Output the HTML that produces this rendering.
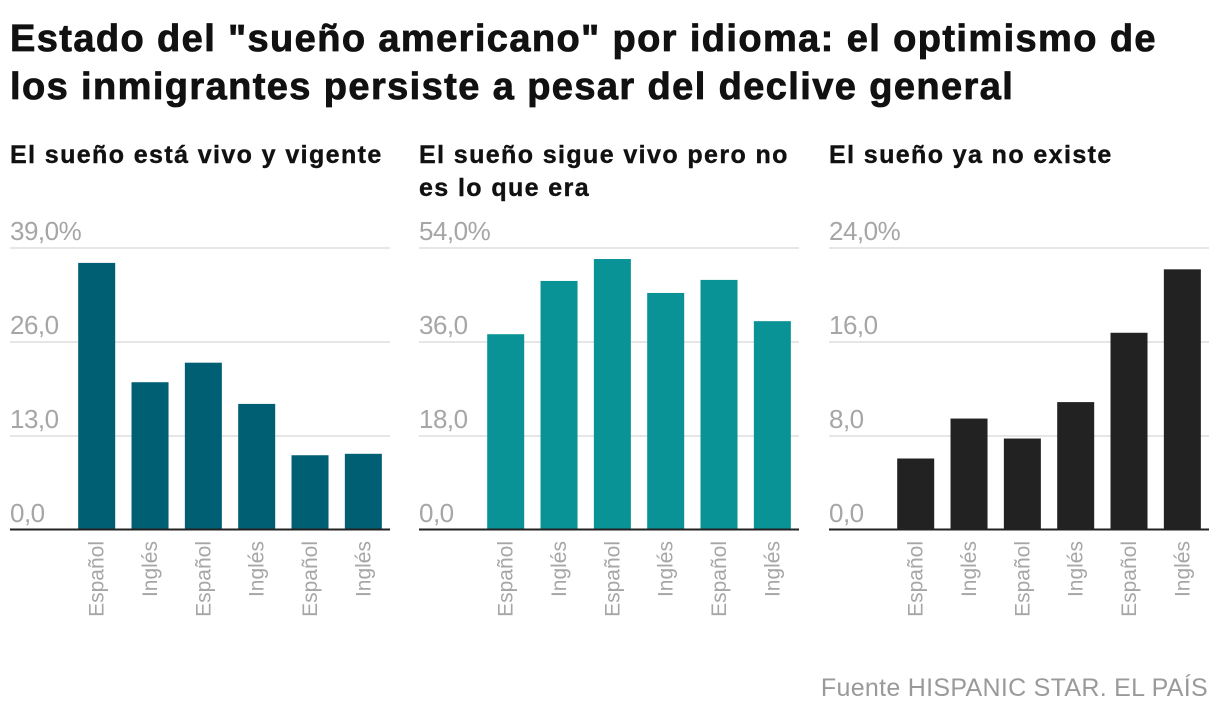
<!DOCTYPE html>
<html><head><meta charset="utf-8"><style>
body{margin:0;background:#fff;width:1220px;height:720px;overflow:hidden;font-family:"Liberation Sans",sans-serif}
h1{position:absolute;left:10px;top:15px;margin:0;font-size:38px;line-height:48px;font-weight:bold;color:#111;letter-spacing:1.4px;-webkit-text-stroke:0.8px #111;white-space:nowrap}
.sub{position:absolute;top:139px;margin:0;font-size:25px;line-height:33px;font-weight:bold;color:#111;width:400px;letter-spacing:1.4px;-webkit-text-stroke:0.4px #111;white-space:nowrap}
#src{position:absolute;right:12px;top:674px;font-size:25px;color:#9a9a9a;letter-spacing:0.3px}
svg{position:absolute;left:0;top:0}
</style></head><body>
<h1>Estado del "sueño americano" por idioma: el optimismo de<br>los inmigrantes persiste a pesar del declive general</h1>
<div class="sub" style="left:10px">El sueño está vivo y vigente</div>
<div class="sub" style="left:419px">El sueño sigue vivo pero no<br>es lo que era</div>
<div class="sub" style="left:829px">El sueño ya no existe</div>
<div id="src">Fuente HISPANIC STAR. EL PAÍS</div>
<svg id="chart" width="1220" height="720"></svg>
<script>
const categories=["Español","Inglés","Español","Inglés","Español","Inglés"];
const seriesVivo=[36.8,20.3,23.0,17.3,10.2,10.4];
const seriesSigue=[37.3,47.5,51.7,45.2,47.7,39.8];
const seriesNoExiste=[6.0,9.4,7.7,10.8,16.7,22.1];
const ticksVivo=[0,13,26,39];
const ticksSigue=[0,18,36,54];
const ticksNoExiste=[0,8,16,24];
const panels=[
 {name:"vivo",vals:seriesVivo,ticks:ticksVivo,color:"#005f73",off:0},
 {name:"sigue",vals:seriesSigue,ticks:ticksSigue,color:"#0a9396",off:409},
 {name:"no-existe",vals:seriesNoExiste,ticks:ticksNoExiste,color:"#222222",off:819}
];
const svg=document.getElementById('chart');
const NS="http://www.w3.org/2000/svg";
function mk(t,a){const e=document.createElementNS(NS,t);for(const k in a)e.setAttribute(k,a[k]);return e;}
const y0=529,y1=247;
panels.forEach(p=>{
 const max=p.ticks[p.ticks.length-1];
 const y=v=>y0-(v/max)*(y0-y1);
 const band=53.33,x0=p.off+70;
 const x=i=>x0+i*band;
 p.ticks.forEach((t,i)=>{
  if(i>0){const g=mk('line',{x1:p.off+10,x2:p.off+390,y1:y(t)+1,y2:y(t)+1,stroke:'#e6e6e6','stroke-width':2});
   
   svg.appendChild(g);}
  const tx=mk('text',{x:p.off+10,y:y(t)-7,'font-size':26,fill:'#a6a6a6','font-family':'Liberation Sans, sans-serif','letter-spacing':'-0.5'});
  tx.textContent=t.toFixed(1).replace('.',',')+(i===p.ticks.length-1?'%':'');
  
  svg.appendChild(tx);
 });
 p.vals.forEach((v,i)=>{
  const r=mk('rect',{x:x(i)+8.2,y:y(v),width:37,height:y0-y(v),fill:p.color});
  
  svg.appendChild(r);
  const cx=x(i)+26.7;
  const l=mk('text',{x:0,y:0,'font-size':21,fill:'#a6a6a6','text-anchor':'end','font-family':'Liberation Sans, sans-serif',transform:`translate(${cx+7},541) rotate(-90)`});
  l.textContent=categories[i];
  
  svg.appendChild(l);
 });
 const ax=mk('line',{x1:p.off+10,x2:p.off+390,y1:y0+0.5,y2:y0+0.5,stroke:'#222','stroke-width':2});
 
 svg.appendChild(ax);
});
</script>
</body></html>
